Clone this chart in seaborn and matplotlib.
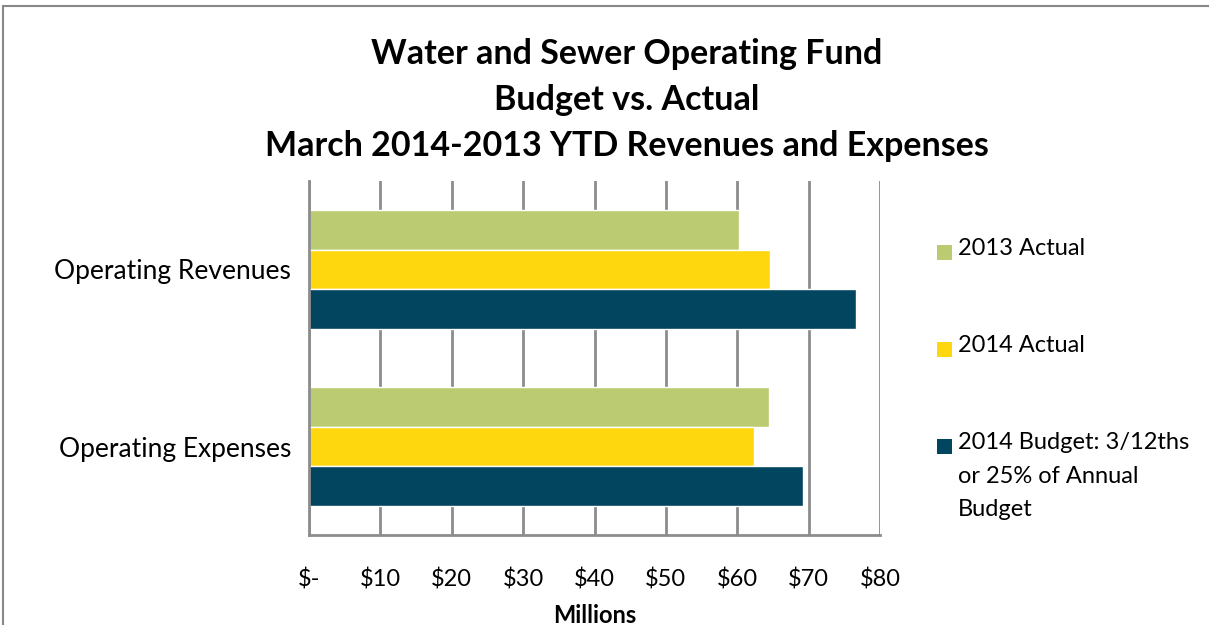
import pandas as pd
import seaborn as sns
import matplotlib.pyplot as plt
from matplotlib.patches import Rectangle

# Water and Sewer Operating Fund - budget vs actual (millions)
categories = ['Operating Revenues', 'Operating Expenses']
series = ['2013 Actual', '2014 Actual', '2014 Budget: 3/12ths\nor 25% of Annual\nBudget']
actual_2013 = [60.3, 64.4]
actual_2014 = [64.6, 62.4]
budget_2014 = [76.7, 69.2]
colors = ['#BACB72', '#FFD70F', '#02455F']
tick_vals = [0, 10, 20, 30, 40, 50, 60, 70, 80]
tick_labels = ['$-', '$10', '$20', '$30', '$40', '$50', '$60', '$70', '$80']

df = pd.DataFrame({
    'Category': categories * 3,
    'Series': [series[0]] * 2 + [series[1]] * 2 + [series[2]] * 2,
    'Value': actual_2013 + actual_2014 + budget_2014,
})

sns.set_style('white')
plt.rcParams['font.family'] = ['Lato', 'DejaVu Sans']
plt.rcParams['text.color'] = 'black'
plt.rcParams['xtick.color'] = 'black'
plt.rcParams['ytick.color'] = 'black'
plt.rcParams['axes.labelcolor'] = 'black'

fig = plt.figure(figsize=(12.09, 6.25), dpi=100)
ax = fig.add_axes([309 / 1209, 1 - 535 / 625, (880 - 309) / 1209, (535 - 181) / 625])

sns.barplot(data=df, y='Category', x='Value', hue='Series', hue_order=series,
            order=categories, palette=colors, orient='h', width=0.667, gap=0,
            saturation=1, legend=False, ax=ax)

ax.set_xlim(0, 80)
ax.set_ylim(1.5, -0.5)
ax.set_xticks(tick_vals)
ax.set_xticklabels(tick_labels, fontsize=17)
ax.tick_params(axis='y', labelsize=19, length=0, pad=13)
ax.tick_params(axis='x', length=0, pad=24)
ax.set_ylabel('')
ax.set_xlabel('Millions', fontsize=17, fontweight='bold', labelpad=10)
ax.grid(axis='x', color='#8C8C8C', linewidth=2)
ax.set_axisbelow(True)
for side in ['top', 'right']:
    ax.spines[side].set_visible(False)
for side in ['left', 'bottom']:
    ax.spines[side].set_color('#8C8C8C')
    ax.spines[side].set_linewidth(2)

fig.suptitle('Water and Sewer Operating Fund\nBudget vs. Actual\nMarch 2014-2013 YTD Revenues and Expenses',
             x=627 / 1209, y=0.94, fontsize=24.5, fontweight='bold', linespacing=1.55)

# legend drawn at the right, handle lined up with first text line
leg_y = [252, 349, 446]
for c, lab, yy in zip(colors, series, leg_y):
    fig.patches.append(Rectangle((937 / 1209, 1 - (yy + 8) / 625), 15 / 1209, 15 / 625,
                                 transform=fig.transFigure, facecolor=c, edgecolor='none'))
    fig.text(958 / 1209, 1 - (yy - 14) / 625, lab, fontsize=17, va='top', ha='left',
             linespacing=1.75)

# outer frame
fig.patches.append(Rectangle((3 / 1209, -0.05), 1.2, 1 - 6 / 625 + 0.05, transform=fig.transFigure,
                             fill=False, edgecolor='#888888', linewidth=1.5))

fig.savefig('out.png', dpi=100)
